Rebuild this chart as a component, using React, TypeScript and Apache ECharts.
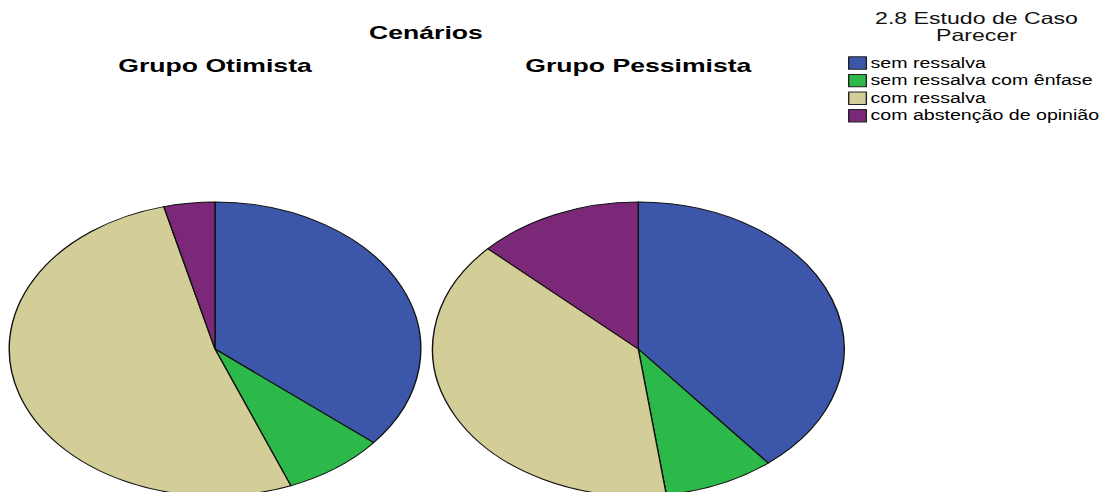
import React, { useEffect, useRef } from "react";
import * as echarts from "echarts";

const categories = [
  "sem ressalva",
  "sem ressalva com ênfase",
  "com ressalva",
  "com abstenção de opinião",
];
const colors = ["#3c57a9", "#2db84a", "#d3cd97", "#7a2877"];
const otimistaValues = [9, 2, 13, 1];
const pessimistaValues = [9, 2, 9, 3];
const groupTitles = ["Grupo Otimista", "Grupo Pessimista"];
const mainTitle = "Cenários";
const legendTitle = "2.8 Estudo de Caso\nParecer";

const SX = 1.4;
const W = 1103;
const H = 492;
const FONT = "'Liberation Sans', Arial, sans-serif";

export default function App() {
  const ref = useRef<HTMLDivElement>(null);
  useEffect(() => {
    document.body.style.margin = "0";
    const chart = echarts.init(ref.current!, undefined, { renderer: "svg" });
    const cxL = 215 / SX;
    const cxR = 638.3 / SX;
    const cy = 349;
    const r = 147;
    const mkData = (vals: number[]) =>
      categories.map((name, i) => ({ name, value: vals[i], itemStyle: { color: colors[i] } }));
    const pieBase = {
      type: "pie",
      radius: r,
      startAngle: 90,
      clockwise: true,
      label: { show: false },
      labelLine: { show: false },
      emphasis: { disabled: true },
      itemStyle: { borderColor: "#111", borderWidth: 1 },
    };
    chart.setOption({
      animation: false,
      backgroundColor: "#fff",
      color: colors,
      legend: {
        orient: "vertical",
        left: 848 / SX,
        top: 56,
        itemWidth: 12.6,
        itemHeight: 12.4,
        itemGap: 3.6,
        icon: "rect",
        padding: 0,
        data: categories,
        itemStyle: { borderColor: "#222", borderWidth: 1 },
        textStyle: { fontFamily: FONT, fontSize: 14, lineHeight: 12.4, color: "#000", padding: [0, 0, 0, -2] },
        selectedMode: false,
      },
      graphic: [
        {
          type: "text",
          x: 426 / SX,
          y: 23,
          style: { text: mainTitle, textAlign: "center", textVerticalAlign: "top", font: `bold 19px ${FONT}`, fill: "#000" },
        },
        {
          type: "text",
          x: cxL,
          y: 56,
          style: { text: groupTitles[0], textAlign: "center", textVerticalAlign: "top", font: `bold 19px ${FONT}`, fill: "#000" },
        },
        {
          type: "text",
          x: cxR,
          y: 56,
          style: { text: groupTitles[1], textAlign: "center", textVerticalAlign: "top", font: `bold 19px ${FONT}`, fill: "#000" },
        },
        {
          type: "text",
          x: 976.5 / SX,
          y: 10,
          style: {
            text: legendTitle,
            textAlign: "center",
            textVerticalAlign: "top",
            font: `16.5px ${FONT}`,
            lineHeight: 17,
            fill: "#111",
          },
        },
      ],
      series: [
        { ...pieBase, name: groupTitles[0], center: [cxL, cy], data: mkData(otimistaValues) },
        { ...pieBase, name: groupTitles[1], center: [cxR, cy], data: mkData(pessimistaValues) },
      ],
    });
    return () => chart.dispose();
  }, []);
  return (
    <div style={{ width: W, height: H, position: "relative", overflow: "hidden", background: "#fff" }}>
      <div
        ref={ref}
        style={{
          width: W / SX,
          height: H,
          transform: `scaleX(${SX})`,
          transformOrigin: "0 0",
          position: "absolute",
          left: 0,
          top: 0,
        }}
      />
    </div>
  );
}
